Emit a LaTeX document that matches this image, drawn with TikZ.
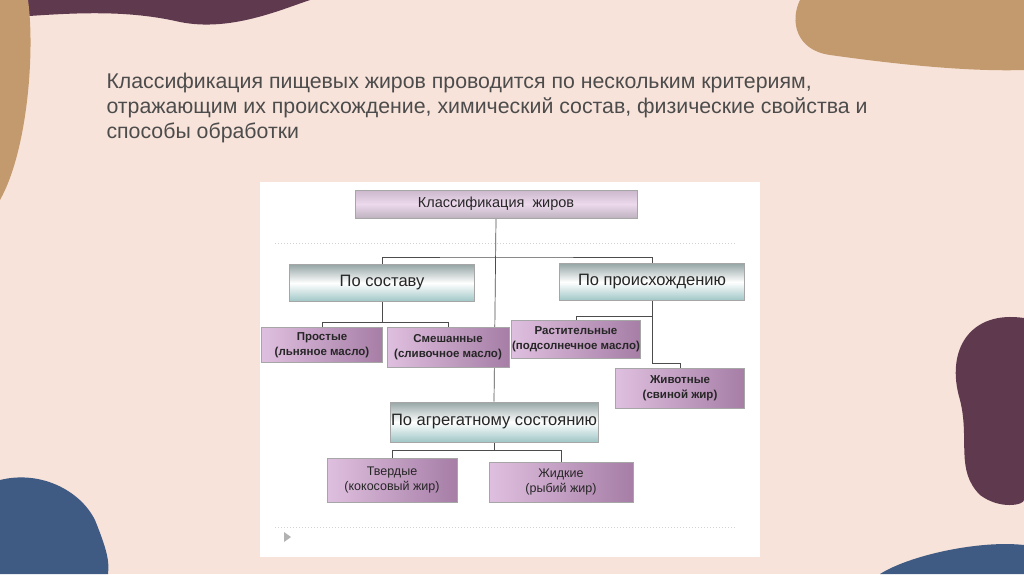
\documentclass[tikz,border=0pt]{standalone}
\usepackage{fontspec}
\setmainfont{Liberation Sans}
\pgfdeclarelayer{bottom}
\pgfdeclarelayer{lines}
\pgfsetlayers{bottom,lines,main}
\begin{document}
\begin{tikzpicture}[x=1pt,y=-1pt,
  bx/.style={draw=gray!70,line width=0.8pt,minimum width=#1,inner sep=1pt,align=center,text=black!85},
  cat/.style={bx=#1,top color=white!80!cyan!30!gray,bottom color=cyan!25!gray!60,middle color=white,font=\fontsize{16.5}{18}\selectfont,minimum height=37},
  leaf/.style={bx=#1,left color=violet!25!white,right color=violet!45!gray!70,font=\fontsize{12.5}{15}\selectfont,minimum height=38},
  bl/.style={font=\bfseries\fontsize{11.5}{15}\selectfont},
  ln/.style={draw=gray!60!black,line width=0.7pt}]
\definecolor{bg}{HTML}{F8E3DA}
\definecolor{tan}{HTML}{C39A6E}
\definecolor{plum}{HTML}{5F3A4F}
\definecolor{navy}{HTML}{3F5B83}
\begin{pgfonlayer}{bottom}
\useasboundingbox (0,0) rectangle (1024,574);
\fill[bg] (0,0) rectangle (1024,574);
\fill[plum] (0,0) -- (0,18) .. controls (60,14) and (120,8) .. (180,22) .. controls (230,32) and (280,10) .. (310,0) -- cycle;
\fill[tan] (0,0) -- (28,0) .. controls (35,50) and (28,150) .. (0,200) -- cycle;
\fill[tan] (800,0) -- (1024,0) -- (1024,70) .. controls (960,72) and (880,62) .. (830,55) .. controls (795,50) and (790,20) .. (800,0) -- cycle;
\fill[plum] (1024,318) .. controls (970,310) and (945,350) .. (960,400) .. controls (970,440) and (955,470) .. (980,495) .. controls (1000,510) and (1024,505) .. (1024,500) -- cycle;
\fill[navy] (0,480) .. controls (40,470) and (80,490) .. (95,520) .. controls (105,545) and (110,560) .. (108,574) -- (0,574) -- cycle;
\fill[navy] (880,574) .. controls (910,555) and (980,540) .. (1024,545) -- (1024,574) -- cycle;
\fill[white] (260,182) rectangle (760,557);
\draw[gray!35,dotted,line width=1pt] (275,243) -- (735,243);
\draw[gray!35,dotted,line width=1pt] (275,527) -- (735,527);
\fill[gray!60] (284,532) -- (291,537) -- (284,542) -- cycle;
\end{pgfonlayer}
% title
\node[anchor=west,align=left,text=black!70,font=\fontsize{21.3}{25}\selectfont] (title) at (103,108)
 {Классификация пищевых жиров проводится по нескольким критериям,\\
  отражающим их происхождение, химический состав, физические свойства и\\
  способы обработки};
% nodes
\node[bx=282,minimum height=28,top color=gray!60!violet!40,bottom color=gray!80!violet!50,middle color=white!85!violet,font=\fontsize{14.5}{16}\selectfont] (root) at (496,204) {Классификация\ \ жиров};
\node[cat=185] (sost) at (382,283) {По составу};
\node[cat=185] (proi) at (652,282) {По происхождению};
\node[cat=208,minimum height=40] (agr) at (494,422) {По агрегатному состоянию};
\node[leaf=121,minimum height=35,bl] (pros) at (322,345) {Простые\\(льняное масло)};
\node[leaf=122,minimum height=40,bl] (smes) at (448,347) {Смешанные\\(сливочное масло)};
\node[leaf=129,bl] (rast) at (576,339) {Растительные\\(подсолнечное масло)};
\node[leaf=129,minimum height=40,bl] (zhiv) at (680,388) {Животные\\(свиной жир)};
\node[leaf=130,minimum height=44] (tver) at (392,480) {Твердые\\(кокосовый жир)};
\node[leaf=144,minimum height=40] (zhid) at (561,482) {Жидкие\\(рыбий жир)};
% connectors
\begin{pgfonlayer}{lines}
\coordinate (j1) at (496,257);
\draw[ln] (root.south) -- (agr.north);
\draw[ln] (sost.north) |- (j1) -| (proi.north);
\draw[ln] (sost.south) -- ++(0,20) coordinate (j2);
\draw[ln] (pros.north) |- (j2) -| (smes.north);
\draw[ln] (proi.south) -- ++(0,15) coordinate (j3);
\draw[ln] (j3) -| (rast.north);
\draw[ln] (j3) -- ++(0,47) -| (zhiv.north);
\draw[ln] (agr.south) -- ++(0,8) coordinate (j4);
\draw[ln] (tver.north) |- (j4) -| (zhid.north);
\end{pgfonlayer}
\end{tikzpicture}
\end{document}
